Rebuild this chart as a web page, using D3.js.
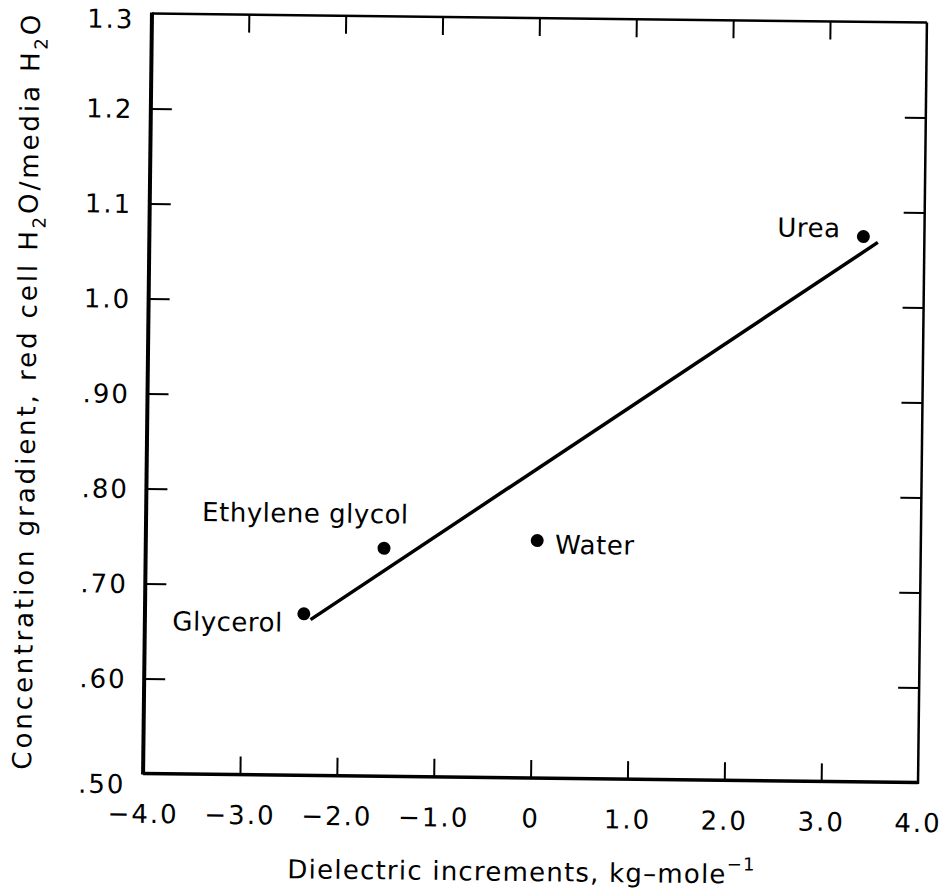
<!DOCTYPE html>
<html lang="en">
<head>
<meta charset="utf-8">
<title>Concentration gradient vs dielectric increment</title>
<script src="https://cdn.jsdelivr.net/npm/d3@7"></script>
<style>
  body { margin: 0; background: #fff; }
  text { font-family: "DejaVu Sans", sans-serif; fill: #000; }
</style>
</head>
<body>
<svg width="945" height="896"></svg>
<script>

// values
var names = ["Glycerol", "Ethylene glycol", "Water", "Urea"];
var dielectric = [-2.36, -1.54, 0.04, 3.37];
var gradient = [0.670, 0.740, 0.750, 1.074];

// fitted line end points
var fitX = [-2.29, 3.52];
var fitY = [0.664, 1.068];

var xTicks = [-4, -3, -2, -1, 0, 1, 2, 3, 4];
var yTicks = [0.5, 0.6, 0.7, 0.8, 0.9, 1.0, 1.1, 1.2, 1.3];

var svg = d3.select("svg"),
    margin = {top: 18, left: 147.5},
    width = 775,
    height = 760;

// the scanned figure sits a little askew
var root = svg.append("g")
    .attr("transform", "rotate(0.67,535,398)");

var g = root.append("g")
    .attr("transform", "translate(" + margin.left + "," + margin.top + ")");

var x = d3.scaleLinear().domain([-4, 4]).range([0, width]),
    y = d3.scaleLinear().domain([0.5, 1.3]).range([height, 0]);

var fmtX = function(d) { return d === 0 ? "0" : (d < 0 ? "\u2212" : "") + Math.abs(d).toFixed(1); };
var fmtY = function(d) { return d < 1 ? d.toFixed(2).slice(1) : d.toFixed(1); };

var inner = function(v, lo, hi) { return v > lo + 1e-9 && v < hi - 1e-9; };

// bottom axis with labels
var ax = g.append("g")
    .attr("transform", "translate(0," + height + ")")
    .call(d3.axisBottom(x).tickValues(xTicks).tickSizeInner(-18).tickSizeOuter(0)
      .tickPadding(31).tickFormat(fmtX));

// left axis with labels
var ay = g.append("g")
    .call(d3.axisLeft(y).tickValues(yTicks).tickSizeInner(-21).tickSizeOuter(0)
      .tickPadding(17.5).tickFormat(fmtY));

// top and right, ticks only
var at = g.append("g")
    .call(d3.axisTop(x).tickValues(xTicks.filter(function(d) { return inner(d, -4, 4); }))
      .tickSizeInner(-18).tickSizeOuter(0).tickFormat(""));
var ar = g.append("g")
    .attr("transform", "translate(" + width + ",0)")
    .call(d3.axisRight(y).tickValues(yTicks.filter(function(d) { return inner(d, 0.5, 1.3); }))
      .tickSizeInner(-21).tickSizeOuter(0).tickFormat(""));

[ax, ay, at, ar].forEach(function(a) {
  a.select(".domain").remove();
  a.selectAll(".tick line").attr("stroke", "#000").attr("stroke-width", 2);
  a.selectAll(".tick text").attr("fill", "#000")
      .style("font-size", "26px").style("letter-spacing", "2px");
});

// end ticks don't draw a line inside the frame corners
ax.selectAll(".tick line").filter(function(d) { return !inner(d, -4, 4); }).remove();
ay.selectAll(".tick line").filter(function(d) { return !inner(d, 0.5, 1.3); }).remove();

ay.selectAll(".tick text")
    .attr("dy", function(d) { return d === 0.5 ? "0.75em" : d === 1.3 ? "0.55em" : "0.35em"; });

// frame
g.append("line").attr("x1", 0).attr("x2", 0).attr("y1", -1).attr("y2", height + 1)
    .attr("stroke", "#000").attr("stroke-width", 4);
g.append("line").attr("x1", 0).attr("x2", width).attr("y1", height).attr("y2", height)
    .attr("stroke", "#000").attr("stroke-width", 3.5);
g.append("line").attr("x1", 0).attr("x2", width).attr("y1", 0).attr("y2", 0)
    .attr("stroke", "#000").attr("stroke-width", 2.5);
g.append("line").attr("x1", width).attr("x2", width).attr("y1", 0).attr("y2", height + 1.5)
    .attr("stroke", "#000").attr("stroke-width", 2.5);

// fitted line
g.append("path")
    .datum(fitX.map(function(v, i) { return [v, fitY[i]]; }))
    .attr("fill", "none")
    .attr("stroke", "#000")
    .attr("stroke-width", 3.5)
    .attr("d", d3.line().x(function(d) { return x(d[0]); }).y(function(d) { return y(d[1]); }));

// points
var pts = names.map(function(n, i) { return {name: n, x: dielectric[i], y: gradient[i]}; });

g.selectAll(".dot")
    .data(pts)
  .enter().append("circle")
    .attr("class", "dot")
    .attr("cx", function(d) { return x(d.x); })
    .attr("cy", function(d) { return y(d.y); })
    .attr("r", 6.5)
    .attr("fill", "#000");

var labelPos = {
  "Glycerol": {dx: -21, dy: 18, anchor: "end"},
  "Ethylene glycol": {dx: -79, dy: -25, anchor: "middle"},
  "Water": {dx: 18, dy: 13, anchor: "start"},
  "Urea": {dx: -23, dy: 1, anchor: "end"}
};

g.selectAll(".lbl")
    .data(pts)
  .enter().append("text")
    .attr("class", "lbl")
    .attr("x", function(d) { return x(d.x) + labelPos[d.name].dx; })
    .attr("y", function(d) { return y(d.y) + labelPos[d.name].dy; })
    .attr("text-anchor", function(d) { return labelPos[d.name].anchor; })
    .style("font-size", "26px")
    .style("letter-spacing", "0.5px")
    .text(function(d) { return d.name; });

// x title
var xt = g.append("text")
    .attr("x", 379)
    .attr("y", height + 103)
    .attr("text-anchor", "middle")
    .attr("textLength", 467)
    .attr("lengthAdjust", "spacing")
    .style("font-size", "26px");
xt.append("tspan").text("Dielectric increments, kg\u2013mole");
xt.append("tspan").attr("dy", -13).style("font-size", "18px").text("\u22121");

// y title
var yt = g.append("text")
    .attr("transform", "translate(" + (-112) + "," + 380 + ") rotate(-90)")
    .attr("text-anchor", "middle")
    .attr("textLength", 755)
    .attr("lengthAdjust", "spacing")
    .style("font-size", "26px");
yt.append("tspan").text("Concentration gradient, red cell H");
yt.append("tspan").attr("dy", 8).style("font-size", "18px").text("2");
yt.append("tspan").attr("dy", -8).text("O/media H");
yt.append("tspan").attr("dy", 8).style("font-size", "18px").text("2");
yt.append("tspan").attr("dy", -8).text("O");

</script>
</body>
</html>
